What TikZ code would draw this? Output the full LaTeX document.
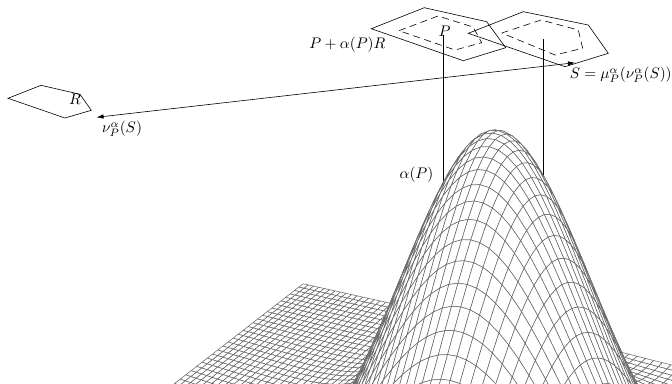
\documentclass[tikz,border=0pt]{standalone}
\usetikzlibrary{arrows.meta}
\newif\ifshowcell
\newcommand\PX[2]{\csname vx#1-#2\endcsname}
\newcommand\PY[2]{\csname vy#1-#2\endcsname}
\tikzset{
  lbl/.style={scale=1.53,inner sep=0pt},
  poly/.style={line width=0.6pt,line join=miter},
  dashpoly/.style={line width=0.6pt,dash pattern=on 7pt off 4.5pt},
  post/.style={line width=0.6pt},
  arr/.style={line width=0.6pt,{Latex[length=7pt,width=4.5pt]}-{Latex[length=7pt,width=4.5pt]}},
  meshcell/.style={draw=black!62,fill=white,line width=0.5pt,line join=round}
}
\begin{document}
\begin{tikzpicture}[x=1pt,y=-1pt]
\useasboundingbox (0,0) rectangle (672,383);
% surface vertices
\def\dt{0.0125}
\foreach \i in {0,...,80}{
 \foreach \j in {0,...,60}{
  \pgfmathsetmacro\ss{(1-exp(-0.0131*\j))/1.05}
  \pgfmathsetmacro\tt{\i*\dt*(1-0.67*\ss)}
  \pgfmathsetmacro\XX{-0.38+0.946*\tt-0.326*\ss}
  \pgfmathsetmacro\DD{1-0.326*\tt-0.946*\ss}
  \pgfmathsetmacro\aa{(\tt-0.506)/0.1485}
  \pgfmathsetmacro\bb{(\ss-0.302)/0.1485}
  \pgfmathsetmacro\arg{\aa*\aa+\bb*\bb}
  \ifdim\arg pt>9pt \def\zz{0}\else\pgfmathsetmacro\zz{0.42*exp(-\arg)}\fi
  \pgfmathsetmacro\vx{495+505*\XX/\DD}
  \pgfmathsetmacro\vy{505*(0.562-\zz)/\DD}
  \expandafter\xdef\csname vx\i-\j\endcsname{\vx}
  \expandafter\xdef\csname vy\i-\j\endcsname{\vy}
 }
}
% posts
\coordinate (p1top) at (443.5,35);
\coordinate (p1bot) at (443.5,190);
\coordinate (p2top) at (543.7,39);
\coordinate (p2bot) at (543.7,190);
\draw[post] (p1top) -- (p1bot);
\draw[post] (p2top) -- (p2bot);
% mesh
\begin{scope}
\clip (0,0) rectangle (672,383);
\foreach \j in {0,...,59}{
 \foreach \i in {0,...,79}{
  \edef\ii{\the\numexpr\i+1\relax}
  \edef\jj{\the\numexpr\j+1\relax}
  \showcellfalse
  \ifdim\PY{\i}{\j}pt<390pt \showcelltrue\fi
  \ifdim\PY{\ii}{\j}pt<390pt \showcelltrue\fi
  \ifdim\PY{\i}{\jj}pt<390pt \showcelltrue\fi
  \ifdim\PY{\ii}{\jj}pt<390pt \showcelltrue\fi
  \ifdim\PX{\i}{\j}pt>700pt \ifdim\PX{\i}{\jj}pt>700pt \showcellfalse\fi\fi
  \ifshowcell
  \path[meshcell] (\PX{\i}{\j},\PY{\i}{\j}) -- (\PX{\ii}{\j},\PY{\ii}{\j}) -- (\PX{\ii}{\jj},\PY{\ii}{\jj}) -- (\PX{\i}{\jj},\PY{\i}{\jj}) -- cycle;
  \fi
 }
}
\end{scope}
% polygons
\draw[poly] (8,98.3) -- (41,85.3) -- (80,94.3) -- (91.3,110.3) -- (65,118) -- cycle;
\draw[poly] (371.3,28.7) -- (424.3,7.7) -- (486.7,21.7) -- (505.7,47.7) -- (463.3,60.7) -- cycle;
\draw[poly] (468.3,33.3) -- (523.3,11.7) -- (588.3,25) -- (608.3,53.3) -- (565,66.7) -- cycle;
\draw[dashpoly] (399,30.7) -- (438,16) -- (473,27) -- (481.7,42.7) -- (455,50) -- cycle;
\draw[dashpoly] (501.7,33) -- (541,20) -- (578.3,30) -- (582.7,48.3) -- (555,55) -- cycle;
% arrow
\coordinate (nu) at (96.5,117.3);
\coordinate (es) at (575,62.7);
\draw[arr] (nu) -- (es);
% labels
\node[lbl,anchor=west] (lbA) at (309,45) {$P+\alpha(P)R$};
\node[lbl] (lbP) at (444.5,31) {$P$};
\node[lbl] (lbR) at (75,99) {$R$};
\node[lbl] (lbN) at (122,129) {$\nu_P^\alpha(S)$};
\node[lbl,anchor=east] (lbS) at (672,75) {$S=\mu_P^\alpha(\nu_P^\alpha(S))$};
\node[lbl] (lbH) at (416.5,175) {$\alpha(P)$};
\end{tikzpicture}
\end{document}
